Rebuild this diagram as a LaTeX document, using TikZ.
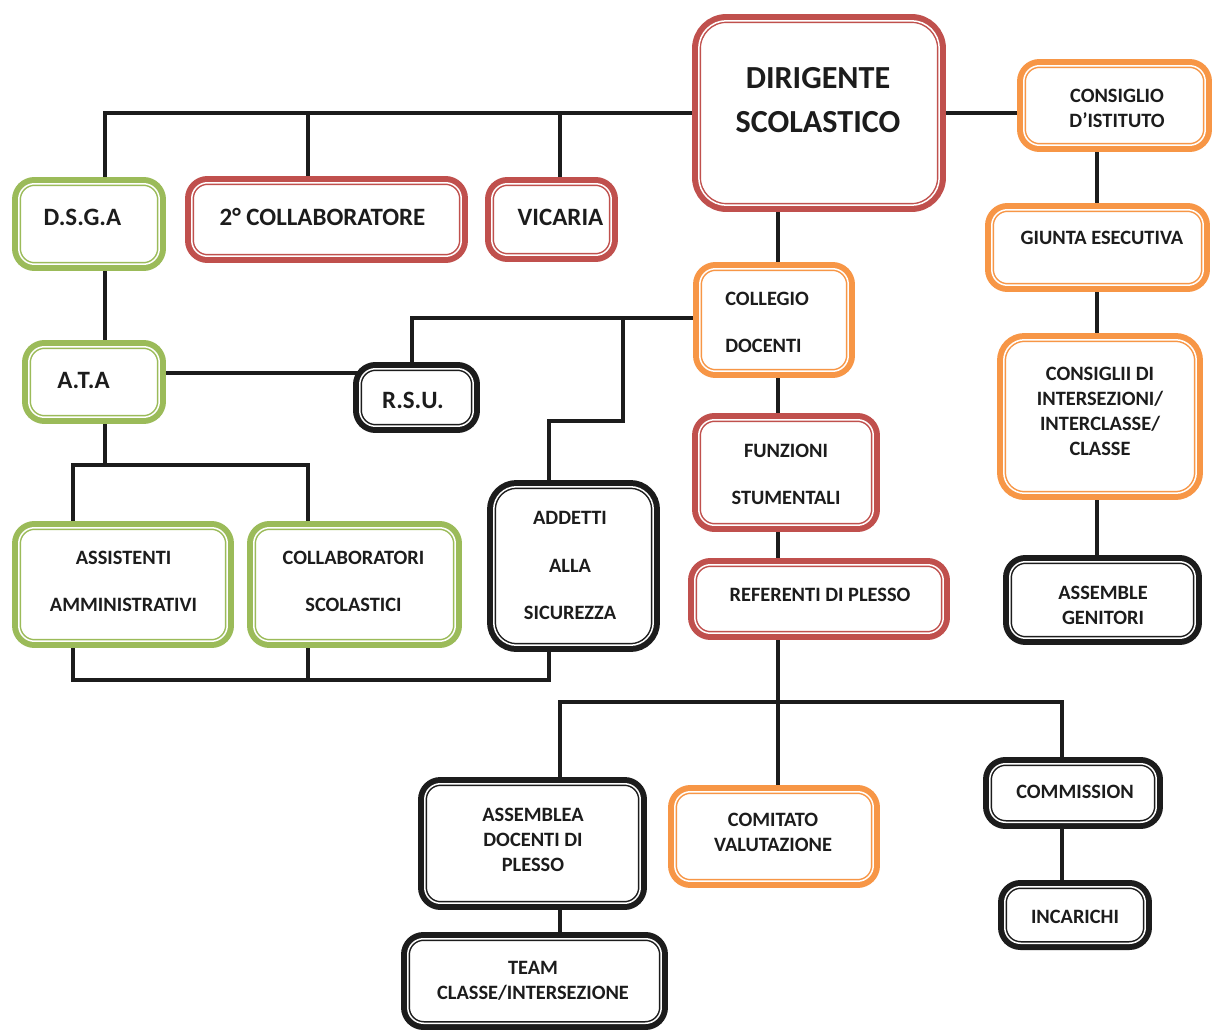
\documentclass[tikz,border=0pt]{standalone}
\usepackage{fontspec}
\setmainfont{Carlito}
\usetikzlibrary{backgrounds}
\definecolor{cred}{HTML}{C0504D}
\definecolor{cgreen}{HTML}{9BBB59}
\definecolor{corange}{HTML}{F79646}
\definecolor{cblack}{HTML}{1C1C1C}
\tikzset{
  orgbox/.style={rectangle, draw=#1, line width=0.18cm, fill=white, rounded corners=0.36cm, inner sep=0pt, outer sep=0pt},
  txs/.style={font=\fontsize{11.6pt}{14.2pt}\selectfont\bfseries, align=center, inner sep=0pt, text=cblack},
  txw/.style={font=\fontsize{11.6pt}{27pt}\selectfont\bfseries, align=center, inner sep=0pt, text=cblack},
  txm/.style={font=\fontsize{14.2pt}{17pt}\selectfont\bfseries, align=center, inner sep=0pt, text=cblack},
  txl/.style={font=\fontsize{18.3pt}{25.5pt}\selectfont\bfseries, align=center, inner sep=0pt, text=cblack},
  link/.style={draw=cblack, line width=0.08cm}
}
\begin{document}
\begin{tikzpicture}[x=0.02cm, y=-0.02cm]
\useasboundingbox (0,0) rectangle (1214,1034);
% boxes
\node[orgbox=cred, rounded corners=0.6cm, minimum width=4.90cm, minimum height=3.78cm] (dir) at (819,113) {};
\node[orgbox=corange, minimum width=3.72cm, minimum height=1.68cm] (cons) at (1114.5,105.5) {};
\node[orgbox=corange, minimum width=4.32cm, minimum height=1.60cm] (giunta) at (1097.5,247.5) {};
\node[orgbox=corange, rounded corners=0.46cm, minimum width=3.94cm, minimum height=3.16cm] (consigli) at (1100,416.5) {};
\node[orgbox=cblack, minimum width=3.80cm, minimum height=1.62cm] (assgen) at (1102.5,600) {};
\node[orgbox=corange, minimum width=3.06cm, minimum height=2.14cm] (coll) at (774,320) {};
\node[orgbox=cred, minimum width=3.58cm, minimum height=2.20cm] (funz) at (786,472.5) {};
\node[orgbox=cred, minimum width=5.06cm, minimum height=1.46cm] (ref) at (819,599) {};
\node[orgbox=cgreen, minimum width=2.90cm, minimum height=1.70cm] (dsga) at (89,224) {};
\node[orgbox=cred, minimum width=5.48cm, minimum height=1.56cm] (coll2) at (326.5,219.5) {};
\node[orgbox=cred, minimum width=2.48cm, minimum height=1.52cm] (vic) at (551.5,219.5) {};
\node[orgbox=cgreen, minimum width=2.70cm, minimum height=1.50cm] (ata) at (94,382) {};
\node[orgbox=cblack, minimum width=2.36cm, minimum height=1.24cm] (rsu) at (416.5,397.5) {};
\node[orgbox=cgreen, minimum width=4.26cm, minimum height=2.36cm] (assist) at (123,584.5) {};
\node[orgbox=cgreen, minimum width=4.12cm, minimum height=2.36cm] (collsc) at (354.5,584.5) {};
\node[orgbox=cblack, rounded corners=0.5cm, minimum width=3.28cm, minimum height=3.26cm] (addetti) at (573.5,566) {};
\node[orgbox=cblack, minimum width=4.40cm, minimum height=2.48cm] (assdoc) at (532.5,843.5) {};
\node[orgbox=cblack, minimum width=5.16cm, minimum height=1.78cm] (team) at (534.5,981) {};
\node[orgbox=corange, minimum width=4.06cm, minimum height=1.88cm] (comit) at (774,836.5) {};
\node[orgbox=cblack, minimum width=3.42cm, minimum height=1.26cm] (commis) at (1073,793) {};
\node[orgbox=cblack, minimum width=2.90cm, minimum height=1.22cm] (incar) at (1075,915) {};
% thin white gap inside each border
\foreach \n/\r in {dir/0.555, cons/0.315, giunta/0.315, consigli/0.415, assgen/0.315, coll/0.315,
  funz/0.315, ref/0.315, dsga/0.315, coll2/0.315, vic/0.315, ata/0.315, rsu/0.315, assist/0.315,
  collsc/0.315, addetti/0.455, assdoc/0.315, team/0.315, comit/0.315, commis/0.315, incar/0.315}
  \draw[white, line width=0.03cm, rounded corners=\r cm]
    ([shift={(0.045cm,-0.045cm)}]\n.north west) rectangle ([shift={(-0.045cm,0.045cm)}]\n.south east);
% texts
\node[txl] (dir-t) at (818,100) {DIRIGENTE\\SCOLASTICO};
\node[txs] (cons-t) at (1117,108.5) {CONSIGLIO\\D’ISTITUTO};
\node[txs] (giunta-t) at (1102,238) {GIUNTA ESECUTIVA};
\node[txs] (consigli-t) at (1100,411) {CONSIGLII DI\\INTERSEZIONI/\\INTERCLASSE/\\CLASSE};
\node[txs] (assgen-t) at (1103,605.5) {ASSEMBLE\\GENITORI};
\node[txw, align=left, anchor=west] (coll-t) at (725,322.5) {COLLEGIO\\DOCENTI};
\node[txw] (funz-t) at (786,474.5) {FUNZIONI\\STUMENTALI};
\node[txs] (ref-t) at (820,595) {REFERENTI DI PLESSO};
\node[txm] (dsga-t) at (82.5,217) {D.S.G.A};
\node[txm] (coll2-t) at (322.5,217) {2° COLLABORATORE};
\node[txm] (vic-t) at (560.5,217) {VICARIA};
\node[txm] (ata-t) at (83.5,380) {A.T.A};
\node[txm] (rsu-t) at (413,400) {R.S.U.};
\node[txw] (assist-t) at (123.5,581.5) {ASSISTENTI\\AMMINISTRATIVI};
\node[txw] (collsc-t) at (353.5,581.5) {COLLABORATORI\\SCOLASTICI};
\node[txw] (addetti-t) at (570,565.5) {ADDETTI\\ALLA\\SICUREZZA};
\node[txs] (assdoc-t) at (533,840) {ASSEMBLEA\\DOCENTI DI\\PLESSO};
\node[txs] (team-t) at (533,980.5) {TEAM\\CLASSE/INTERSEZIONE};
\node[txs] (comit-t) at (773,832.5) {COMITATO\\VALUTAZIONE};
\node[txs] (commis-t) at (1075,792) {COMMISSION};
\node[txs] (incar-t) at (1075,917) {INCARICHI};
% helper coordinates
\coordinate (xa) at (105,0);
\coordinate (xb) at (308,0);
\coordinate (xc) at (560,0);
\coordinate (xd) at (73,0);
\coordinate (xs) at (412,0);
\coordinate (xt) at (623,0);
\coordinate (xu) at (549,0);
\coordinate (xm) at (778,0);
\coordinate (xl) at (560,0);
\coordinate (xq) at (1062,0);
\coordinate (xr) at (1097,0);
\coordinate (ys) at (0,318);
\coordinate (yr) at (0,373);
\coordinate (yv) at (0,421);
\coordinate (yw) at (0,465);
\coordinate (yz) at (0,680);
\coordinate (ybr) at (0,702);
\begin{pgfonlayer}{background}
\fill[white] (0,0) rectangle (1214,1034);
% top tier
\draw[link] (dsga.north -| xa) |- (dir.west);
\draw[link] (coll2.north -| xb) -- (xb |- dir.west);
\draw[link] (vic.north -| xc) -- (xc |- dir.west);
\draw[link] (dir.east) -- (dir.east -| cons.west);
% right column
\draw[link] (cons.south -| xr) -- (giunta.north -| xr);
\draw[link] (giunta.south -| xr) -- (consigli.north -| xr);
\draw[link] (consigli.south -| xr) -- (assgen.north -| xr);
% central column
\draw[link] (dir.south -| xm) -- (coll.north -| xm);
\draw[link] (coll.south -| xm) -- (funz.north -| xm);
\draw[link] (funz.south -| xm) -- (ref.north -| xm);
\draw[link] (ref.south -| xm) -- (comit.north -| xm);
\draw[link] (assdoc.north -| xl) |- (ybr -| xq) -- (commis.north -| xq);
\draw[link] (commis.south -| xq) -- (incar.north -| xq);
\draw[link] (assdoc.south -| xl) -- (team.north -| xl);
% collegio branches
\draw[link] (ys -| coll.west) -| (rsu.north -| xs);
\draw[link] (ys -| xt) |- (yv -| xu) -- (addetti.north -| xu);
% left column
\draw[link] (dsga.south -| xa) -- (ata.north -| xa);
\draw[link] (yr -| ata.east) -- (yr -| rsu.west);
\draw[link] (ata.south -| xa) -- (xa |- yw);
\draw[link] (assist.north -| xd) |- (yw -| xb) -- (collsc.north -| xb);
\draw[link] (assist.south -| xd) |- (yz -| xu) -- (addetti.south -| xu);
\draw[link] (collsc.south -| xb) -- (xb |- yz);
\end{pgfonlayer}
\end{tikzpicture}
\end{document}
